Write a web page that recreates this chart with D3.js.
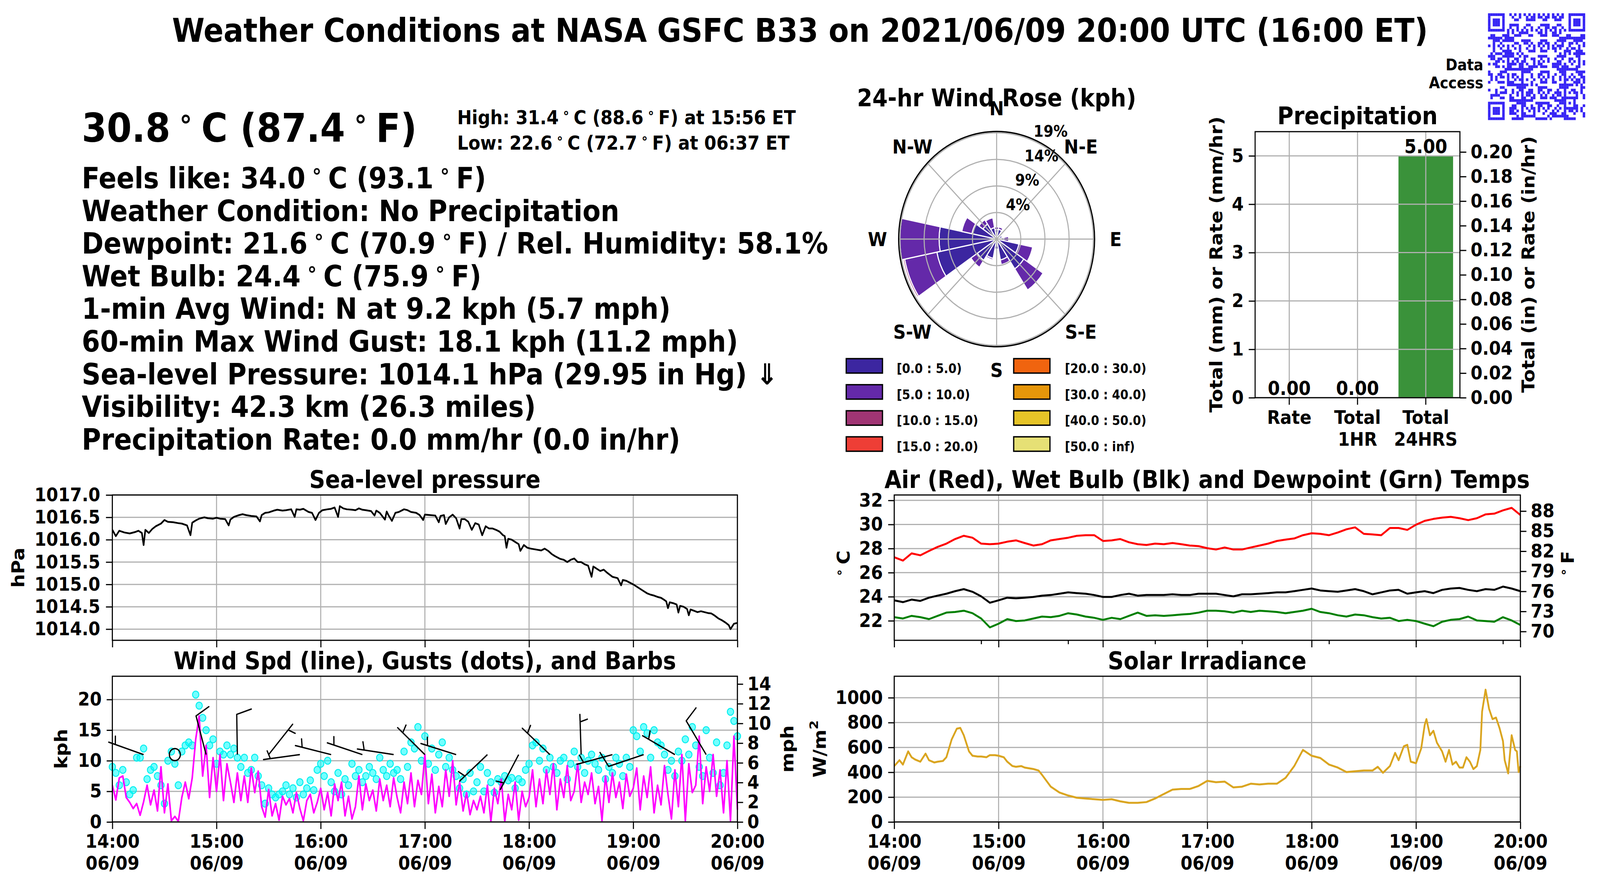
<!DOCTYPE html>
<html>
<head>
<meta charset="utf-8">
<script src="https://cdn.jsdelivr.net/npm/d3@7"></script>
<style>
  html, body { margin: 0; padding: 0; width: 100%; height: 100%; overflow: hidden; background: #fff; }
  #fig { display: block; width: 100vw; height: 100vh; }
  svg text { font-family: "DejaVu Sans", sans-serif; font-weight: bold; }
</style>
</head>
<body>
<svg id="fig" viewBox="0 0 4500 2250" preserveAspectRatio="none"></svg>
<script>
// Weather station summary page: header text, wind rose, precipitation bars
// and four 6-hour time series panels (times are ET).

// ---------- text ----------
var titleText = "Weather Conditions at NASA GSFC B33 on 2021/06/09 20:00 UTC (16:00 ET)";
var nowTemp = "30.8°C (87.4°F)";
var highLow = ["High: 31.4°C (88.6°F) at 15:56 ET", "Low: 22.6°C (72.7°F) at 06:37 ET"];
var infoLines = [
  "Feels like: 34.0°C (93.1°F)",
  "Weather Condition: No Precipitation",
  "Dewpoint: 21.6°C (70.9°F) / Rel. Humidity: 58.1%",
  "Wet Bulb: 24.4°C (75.9°F)",
  "1-min Avg Wind: N at 9.2 kph (5.7 mph)",
  "60-min Max Wind Gust: 18.1 kph (11.2 mph)",
  "Sea-level Pressure: 1014.1 hPa (29.95 in Hg) ⇓",
  "Visibility: 42.3 km (26.3 miles)",
  "Precipitation Rate: 0.0 mm/hr (0.0 in/hr)"
];

// ---------- wind rose (percent of obs per direction and speed bin) ----------
var roseDirs = ["N","NNE","NE","ENE","E","ESE","SE","SSE","S","SSW","SW","WSW","W","WNW","NW","NNW"];
var roseBin0 = [1.8, 1.9, 1.1, 1.2, 1.5, 4.7, 6.75, 4.0, 1.9, 3.7, 4.8, 12.6, 11.9, 5.2, 3.4, 2.2];
var roseBin1 = [0.5, 0.45, 0, 0.2, 1.0, 2.9, 4.8, 0.9, 0, 0.3, 1.6, 6.8, 8.1, 2.15, 1.0, 1.9];
var roseBin2 = [0, 0, 0, 0, 0, 0, 0, 0, 0, 0.15, 0, 0.3, 0, 0, 0, 0.15];
var roseBins = ["[0.0 : 5.0)", "[5.0 : 10.0)", "[10.0 : 15.0)", "[15.0 : 20.0)",
                "[20.0 : 30.0)", "[30.0 : 40.0)", "[40.0 : 50.0)", "[50.0 : inf)"];
var roseColors = ["#3c26a0", "#6429a9", "#a03574", "#ee3e36", "#f0640f", "#e6960a", "#e6c428", "#e6e075"];
var roseRings = [4, 9, 14, 19];
var roseLabels = ["N", "N-E", "E", "S-E", "S", "S-W", "W", "N-W"];

// ---------- precipitation ----------
var precipCats = ["Rate", "Total|1HR", "Total|24HRS"];
var precipMM = [0.00, 0.00, 5.00];
var precipMMTicks = [0, 1, 2, 3, 4, 5];
var precipInTicks = [0, 0.02, 0.04, 0.06, 0.08, 0.10, 0.12, 0.14, 0.16, 0.18, 0.20];

// ---------- sea-level pressure, [minute after 14:00, hPa] ----------
var pressureObs = [
  [0,1016.22],[2,1016.08],[4,1016.2],[7,1016.16],[10,1016.14],[13,1016.17],[15,1016.2],[17,1016.15],
  [18,1015.88],[19,1016.22],[21,1016.15],[23,1016.24],[25,1016.3],[28,1016.36],[30,1016.44],[32,1016.4],
  [35,1016.39],[38,1016.37],[40,1016.36],[43,1016.32],[45,1016.1],[46,1016.38],[48,1016.43],[50,1016.47],
  [53,1016.5],[55,1016.48],[58,1016.47],[60,1016.49],[62,1016.47],[65,1016.46],[67,1016.32],[68,1016.45],
  [70,1016.51],[73,1016.55],[75,1016.57],[77,1016.55],[80,1016.53],[83,1016.52],[85,1016.41],[86,1016.55],
  [88,1016.6],[90,1016.61],[93,1016.65],[95,1016.67],[98,1016.65],[100,1016.66],[103,1016.68],[105,1016.51],
  [106,1016.68],[108,1016.67],[110,1016.69],[113,1016.62],[115,1016.6],[117,1016.44],[119,1016.6],[121,1016.66],
  [124,1016.68],[126,1016.69],[128,1016.72],[130,1016.51],[131,1016.75],[133,1016.7],[135,1016.68],[138,1016.67],
  [140,1016.66],[142,1016.7],[144,1016.67],[146,1016.66],[149,1016.64],[151,1016.54],[152,1016.65],[154,1016.6],
  [157,1016.45],[158,1016.63],[159,1016.55],[161,1016.42],[163,1016.6],[165,1016.62],[168,1016.68],[170,1016.66],
  [172,1016.62],[175,1016.6],[177,1016.55],[179,1016.44],[180,1016.56],[183,1016.55],[186,1016.54],[188,1016.39],
  [189,1016.53],[191,1016.55],[192,1016.35],[194,1016.5],[196,1016.56],[198,1016.48],[200,1016.25],[201,1016.46],
  [203,1016.46],[205,1016.4],[207,1016.22],[209,1016.37],[211,1016.34],[213,1016.1],[215,1016.3],[217,1016.25],
  [219,1016.25],[221,1016.22],[223,1016.18],[225,1016.1],[226,1016.08],[227,1015.82],[228,1016.02],[230,1016.0],
  [232,1015.95],[234,1015.9],[235,1015.75],[237,1015.88],[239,1015.82],[241,1015.8],[244,1015.78],[247,1015.76],
  [249,1015.8],[251,1015.75],[253,1015.68],[255,1015.63],[258,1015.57],[260,1015.55],[262,1015.5],[264,1015.55],
  [266,1015.58],[268,1015.5],[270,1015.5],[272,1015.45],[274,1015.42],[276,1015.17],[277,1015.4],[279,1015.35],
  [281,1015.3],[283,1015.33],[285,1015.26],[288,1015.17],[291,1015.14],[293,1014.98],[294,1015.1],[296,1015.08],
  [298,1015.04],[300,1015.0],[302,1014.95],[304,1014.9],[306,1014.85],[308,1014.8],[310,1014.77],[312,1014.75],
  [314,1014.72],[316,1014.7],[318,1014.65],[319,1014.62],[320,1014.47],[321,1014.6],[323,1014.58],[325,1014.55],
  [326,1014.37],[327,1014.52],[329,1014.5],[331,1014.45],[332,1014.31],[333,1014.44],[335,1014.41],[337,1014.38],
  [339,1014.4],[341,1014.38],[343,1014.36],[345,1014.35],[347,1014.3],[349,1014.24],[351,1014.2],[353,1014.15],
  [355,1014.09],[356,1014.0],[358,1014.12],[360,1014.14]
];
var pressureTicks = [1014.0, 1014.5, 1015.0, 1015.5, 1016.0, 1016.5, 1017.0];

// ---------- wind, every 2 minutes from 14:00 (kph) ----------
var windSpd = [
  6.0, 3.6, 7.2, 7.5, 4.0, 3.2, 2.2, 3.0, 1.1, 3.3, 6.0, 2.8, 5.2, 1.8, 9.0,
  1.5, 6.2, 0.2, 0.9, 0.1, 4.0, 6.5, 3.8, 7.2, 13.5, 17.3, 7.5, 12.5, 4.0, 10.5,
  5.0, 11.0, 3.5, 9.5, 6.5, 3.2, 8.0, 3.5, 7.5, 3.2, 8.8, 4.8, 8.3, 2.5, 0.8,
  5.3, 1.0, 3.0, 0.3, 4.2, 2.8, 3.8, 1.5, 4.8, 2.2, 0.2, 3.5, 4.5, 1.5, 3.2,
  5.5, 2.0, 4.8, 1.0, 6.2, 3.5, 6.5, 1.0, 4.2, 0.5, 2.5, 7.5, 2.0, 6.2, 3.5,
  5.2, 1.8, 7.0, 3.5, 6.0, 2.5, 7.2, 4.0, 1.5, 6.5, 3.0, 8.0, 2.5, 6.8, 4.5,
  11.0, 3.0, 7.8, 1.5, 5.8, 2.5, 8.5, 4.2, 10.0, 2.8, 6.5, 1.8, 4.8, 1.2, 3.5,
  2.0, 4.2, 1.5, 6.0, 0.1, 5.5, 3.0, 7.0, 0.1, 4.5, 2.0, 6.5, 0.3, 5.0, 2.5,
  4.0, 8.5, 2.5, 7.0, 3.0, 8.5, 4.5, 9.5, 2.0, 7.0, 4.0, 9.2, 3.5, 5.0, 9.5,
  3.2, 6.5, 4.5, 8.0, 3.0, 5.8, 0.2, 7.5, 3.2, 8.0, 4.0, 6.5, 2.2, 7.8, 4.2,
  5.5, 8.8, 2.0, 7.5, 4.0, 9.0, 1.5, 6.0, 2.8, 9.2, 4.5, 0.5, 8.5, 2.5, 11.0,
  0.2, 9.5, 4.8, 6.0, 14.0, 3.0, 9.0, 5.0, 11.0, 4.2, 8.5, 1.5, 10.0, 0.2, 14.0,
  2.0
];
var windGust = [
  9.0, 8.0, 6.0, 8.5, 6.5, 4.5, 5.2, 10.5, 10.5, 12.0, 7.0, 8.5, 9.0, 7.5, 6.0,
  3.0, 10.0, 11.5, 9.5, 6.0, 11.5, 12.5, 13.0, 12.5, 20.8, 19.0, 17.0, 15.0, 12.5, 13.5,
  9.5, 11.5, 11.0, 12.5, 11.0, 12.0, 10.5, 9.0, 10.5, 8.0, 8.5, 10.5, 7.5, 6.0, 3.0,
  5.5, 4.5, 4.0, 4.5, 5.0, 6.0, 4.5, 5.5, 4.0, 6.5, 4.5, 5.5, 6.8, 5.2, 8.5,
  9.5, 7.5, 10.0, 6.5, 5.0, 8.0, 4.5, 7.0, 6.0, 9.5, 7.5, 8.5, 6.5, 7.5, 9.0,
  8.0, 7.0, 10.5, 8.5, 7.5, 9.5, 8.0, 8.5, 7.0, 11.5, 9.0, 13.0, 12.0, 15.5, 10.0,
  14.0, 9.5, 12.0, 8.5, 11.0, 13.0, 9.0, 10.5, 8.5, 7.5, 5.5, 7.0, 4.5, 8.0, 5.0,
  6.5, 9.0, 5.0, 8.0, 6.5, 4.8, 7.0, 6.5, 7.5, 6.8, 7.2, 5.5, 7.0, 6.5, 8.5,
  9.5, 12.5, 13.0, 10.0, 12.0, 8.5, 10.5, 9.0, 8.0, 10.0, 10.5, 7.0, 9.5, 11.5, 9.0,
  10.5, 8.0, 10.0, 11.0, 9.5, 8.5, 10.5, 7.0, 9.0, 8.0, 10.5, 9.5, 7.5, 10.5, 9.0,
  15.0, 14.0, 11.5, 15.5, 14.5, 10.5, 15.0, 13.0, 12.5, 11.0, 8.5, 10.0, 7.5, 11.5, 10.0,
  13.5, 11.0, 15.5, 12.5, 9.0, 7.5, 15.0, 10.5, 8.0, 13.0, 6.0, 8.0, 12.5, 18.0, 16.5,
  14.0
];
var kphTicks = [0, 5, 10, 15, 20];
var mphTicks = [0, 2, 4, 6, 8, 10, 12, 14];
// wind barbs: minute after 14:00, direction wind blows from (deg), speed (kph)
var barbMin = [18, 36, 54, 72, 90, 108, 126, 144, 162, 180, 198, 216, 234, 252, 270, 288, 306, 324, 342];
var barbDir = [288, 0, 344, 359, 41, 263, 283, 287, 278, 312, 286, 229, 210, 311, 358, 256, 253, 298, 327];
var barbKph = [5, 1, 10, 10, 5, 5, 5, 5, 5, 5, 5, 5, 5, 5, 5, 5, 10, 5, 10];

// ---------- temperatures, every 5 minutes from 14:00 (deg C) ----------
var airTemp = [
  27.28, 27.0, 27.6, 27.44, 27.8, 28.14, 28.41, 28.79, 29.06, 28.9, 28.41, 28.36,
  28.41, 28.57, 28.68, 28.46, 28.25, 28.36, 28.68, 28.79, 28.9, 29.06, 29.11, 29.11,
  28.63, 28.68, 28.79, 28.52, 28.36, 28.3, 28.41, 28.36, 28.46, 28.36, 28.25, 28.2,
  28.03, 27.92, 28.09, 27.92, 27.92, 28.09, 28.25, 28.41, 28.63, 28.74, 28.84, 29.11,
  29.27, 29.22, 29.11, 29.33, 29.6, 29.76, 29.22, 29.17, 29.11, 29.71, 29.71, 29.55,
  29.98, 30.3, 30.46, 30.57, 30.63, 30.52, 30.36, 30.52, 30.84, 30.9, 31.17, 31.38,
  30.79
];
var wetBulb = [
  23.7, 23.55, 23.76, 23.65, 23.92, 24.09, 24.25, 24.46, 24.63, 24.41, 24.03, 23.5,
  23.7, 23.92, 23.87, 23.92, 23.98, 24.09, 24.14, 24.25, 24.36, 24.3, 24.25, 24.14,
  23.98, 23.98, 24.14, 24.25, 24.09, 24.14, 24.14, 24.14, 24.2, 24.14, 24.14, 24.25,
  24.25, 24.25, 24.14, 24.03, 24.2, 24.2, 24.25, 24.3, 24.36, 24.36, 24.46, 24.57,
  24.68, 24.52, 24.46, 24.41, 24.52, 24.63, 24.46, 24.2, 24.36, 24.52, 24.57, 24.25,
  24.36, 24.46, 24.3, 24.57, 24.68, 24.73, 24.57, 24.46, 24.63, 24.57, 24.84, 24.68,
  24.46
];
var dewPoint = [
  22.3, 22.19, 22.41, 22.3, 22.14, 22.41, 22.68, 22.73, 22.84, 22.63, 22.19, 21.45,
  21.76, 22.14, 21.98, 22.03, 22.19, 22.35, 22.3, 22.41, 22.63, 22.52, 22.35, 22.25,
  22.08, 22.25, 22.14, 22.41, 22.68, 22.41, 22.46, 22.41, 22.46, 22.52, 22.57, 22.68,
  22.84, 22.84, 22.79, 22.68, 22.84, 22.73, 22.84, 22.79, 22.73, 22.63, 22.73, 22.84,
  23.0, 22.73, 22.63, 22.46, 22.35, 22.52, 22.46, 22.3, 22.19, 22.25, 21.98, 22.08,
  21.98, 21.76, 21.55, 21.92, 22.08, 22.14, 22.35, 22.03, 21.98, 21.92, 22.3, 22.03,
  21.65
];
var tempCTicks = [22, 24, 26, 28, 30, 32];
var tempFTicks = [70, 73, 76, 79, 82, 85, 88];
var twinTickMin = [50, 100, 150, 200, 250, 300, 350];

// ---------- solar irradiance, [minute after 14:00, W/m2] ----------
var solarObs = [
  [0,450],[3,497],[5,462],[8,568],[10,521],[12,503],[15,485],[18,550],[20,497],[23,479],[25,485],[28,491],
  [30,521],[33,663],[36,751],[38,757],[40,698],[43,568],[45,533],[48,527],[50,527],[53,521],[55,538],[58,538],
  [60,533],[63,521],[65,485],[68,450],[70,444],[73,450],[75,438],[80,426],[83,414],[85,379],[90,284],[95,237],
  [100,213],[105,195],[110,189],[115,183],[120,178],[125,183],[130,166],[135,154],[140,154],[145,160],[150,189],
  [155,225],[160,260],[165,266],[170,266],[175,290],[180,331],[185,320],[190,325],[195,278],[200,284],[205,308],
  [210,302],[215,308],[220,308],[225,355],[230,450],[235,580],[240,533],[245,515],[250,462],[255,438],[260,402],
  [265,408],[270,414],[275,414],[278,444],[281,396],[285,450],[288,556],[290,497],[293,609],[295,621],[297,485],
  [300,473],[303,592],[305,781],[306,828],[308,698],[310,734],[312,639],[315,568],[317,485],[319,580],[321,462],
  [323,485],[325,438],[327,438],[329,521],[331,485],[333,426],[335,450],[337,580],[338,888],[340,1065],[342,911],
  [344,828],[346,840],[348,757],[350,651],[351,497],[353,391],[355,698],[357,580],[358,568],[359,402],[360,450]
];
var solarTicks = [0, 200, 400, 600, 800, 1000];

// ================= drawing =================
var fig = d3.select("#fig");
var GRID = "#b0b0b0";
var t0 = new Date(2021, 5, 9, 14, 0), t1 = new Date(2021, 5, 9, 20, 0);
function tm(m) { return d3.timeMinute.offset(t0, m); }
var hourTicks = d3.timeHour.range(t0, d3.timeMinute.offset(t1, 1));
var fmtHM = d3.timeFormat("%H:%M"), fmtMD = d3.timeFormat("%m/%d");

var meas = fig.append("text").attr("visibility", "hidden");
function ringW(size) { meas.attr("font-size", size).text("\u2218"); return meas.node().getComputedTextLength(); }

// text where each ° becomes a raised ring operator, matplotlib mathtext style
function degText(g, x, y, str, size, anchor) {
  var t = g.append("text").attr("x", x).attr("y", y).attr("font-size", size)
    .attr("text-anchor", anchor || "start");
  var gap = (0.86 * size - ringW(size * 0.7)) / 2, rise = size * 0.36;
  var parts = str.split("°");
  parts.forEach(function(p, i) {
    var ts = t.append("tspan").text(p);
    if (i > 0) ts.attr("dx", gap).attr("dy", rise);
    if (i < parts.length - 1)
      t.append("tspan").attr("font-size", size * 0.7).attr("dx", gap).attr("dy", -rise).text("\u2218");
  });
  return t;
}
function vLabel(x, y, str, size) {
  var g = fig.append("g").attr("transform", "translate(" + x + "," + y + ") rotate(-90)");
  return degText(g, 0, 0, str, size, "middle");
}
function styleAxis(g) {
  g.attr("font-family", "DejaVu Sans").attr("font-weight", "bold").attr("font-size", 48).attr("color", "#000");
  g.select(".domain").remove();
  g.selectAll(".tick line").attr("stroke-width", 3);
}
function frame(x0, y0, x1, y1) {
  fig.append("rect").attr("x", x0).attr("y", y0).attr("width", x1 - x0).attr("height", y1 - y0)
    .attr("fill", "none").attr("stroke", "#000").attr("stroke-width", 3);
}
function gridH(y, vals, x0, x1) {
  fig.append("g").selectAll("line").data(vals).join("line")
    .attr("x1", x0).attr("x2", x1).attr("y1", function(d) { return y(d); }).attr("y2", function(d) { return y(d); })
    .attr("stroke", GRID).attr("stroke-width", 3);
}
function gridV(xs, y0, y1) {
  fig.append("g").selectAll("line").data(xs).join("line")
    .attr("x1", function(d) { return d; }).attr("x2", function(d) { return d; }).attr("y1", y0).attr("y2", y1)
    .attr("stroke", GRID).attr("stroke-width", 3);
}
function timeAxis(x, yPos, withLabels) {
  var g = fig.append("g").attr("transform", "translate(0," + yPos + ")")
    .call(d3.axisBottom(x).tickValues(hourTicks).tickSize(18).tickPadding(14).tickFormat(fmtHM));
  styleAxis(g);
  if (!withLabels) { g.selectAll(".tick text").remove(); return g; }
  g.selectAll(".tick text").each(function(d) {
    var t = d3.select(this).text(null);
    t.append("tspan").attr("x", 0).text(fmtHM(d));
    t.append("tspan").attr("x", 0).attr("dy", 56).text(fmtMD(d));
  });
  return g;
}
function subTitle(x, y, s) {
  fig.append("text").attr("x", x).attr("y", y).attr("font-size", 62).attr("text-anchor", "middle").text(s);
}

// ---------- header ----------
fig.append("text").attr("x", 2250).attr("y", 107).attr("font-size", 83).attr("text-anchor", "middle").text(titleText);
degText(fig, 230, 363, nowTemp, 101);
degText(fig, 1286, 318, highLow[0], 49);
degText(fig, 1286, 383, highLow[1], 49);
infoLines.forEach(function(s, i) { degText(fig, 230, 482 + i * 83.6, s, 74); });

// ---------- QR code block ----------
function qrCell(r, c) {
  function finder(r0, c0) {
    var dr = r - r0, dc = c - c0;
    if (dr < -1 || dr > 7 || dc < -1 || dc > 7) return null;
    if (dr < 0 || dr > 6 || dc < 0 || dc > 6) return 0;
    return Math.max(Math.abs(dr - 3), Math.abs(dc - 3)) === 2 ? 0 : 1;
  }
  var f = finder(0, 0); if (f !== null) return f;
  f = finder(0, 34); if (f !== null) return f;
  f = finder(34, 0); if (f !== null) return f;
  var a = Math.max(Math.abs(r - 34), Math.abs(c - 34));
  if (a <= 2) return a === 1 ? 0 : 1;
  if (r === 6) return c % 2 === 0 ? 1 : 0;
  if (c === 6) return r % 2 === 0 ? 1 : 0;
  var h = (r * 9283 + c * 1237 + r * c * 79) % 1000;
  h = ((h * 2654435761) >>> 0) % 100;
  return h < 47 ? 1 : 0;
}
var qr = fig.append("g"), qrM = 6.66;
for (var r = 0; r < 41; r++) for (var c = 0; c < 41; c++) {
  if (qrCell(r, c)) qr.append("rect").attr("x", 4185 + c * qrM).attr("y", 34 + r * qrM)
    .attr("width", qrM + 0.3).attr("height", qrM + 0.3).attr("fill", "#3725f5");
}
fig.append("text").attr("x", 4172).attr("y", 180).attr("font-size", 40).attr("text-anchor", "end").text("Data");
fig.append("text").attr("x", 4172).attr("y", 226).attr("font-size", 40).attr("text-anchor", "end").text("Access");

// ---------- wind rose ----------
var roseR = 275.5;
var rose = fig.append("g").attr("transform", "translate(2803,612)");
var rR = d3.scaleLinear().domain([-1, 19.26]).range([0, roseR]);
var arc = d3.arc(), halfSector = Math.PI / 16;
roseDirs.forEach(function(d, i) {
  var a = i * Math.PI / 8, acc = -1;
  [roseBin0[i], roseBin1[i], roseBin2[i]].forEach(function(v, b) {
    if (v <= 0) return;
    rose.append("path")
      .attr("d", arc({ innerRadius: rR(acc), outerRadius: rR(acc + v), startAngle: a - halfSector, endAngle: a + halfSector }))
      .attr("fill", roseColors[b]).attr("stroke", "#fff").attr("stroke-width", 3);
    acc += v;
  });
});
rose.selectAll("circle.ring").data(roseRings).join("circle")
  .attr("r", function(d) { return rR(d); }).attr("fill", "none").attr("stroke", GRID).attr("stroke-width", 3);
rose.selectAll("line.spoke").data(d3.range(8)).join("line")
  .attr("x2", function(k) { return roseR * Math.sin(k * Math.PI / 4); })
  .attr("y2", function(k) { return -roseR * Math.cos(k * Math.PI / 4); })
  .attr("stroke", GRID).attr("stroke-width", 3);
rose.append("circle").attr("r", roseR).attr("fill", "none").attr("stroke", "#000").attr("stroke-width", 3.5);
roseLabels.forEach(function(s, k) {
  var a = k * Math.PI / 4;
  rose.append("text").attr("x", 335 * Math.sin(a)).attr("y", -335 * Math.cos(a)).attr("dy", "0.36em")
    .attr("font-size", 49).attr("text-anchor", "middle").text(s);
});
roseRings.forEach(function(v) {
  var a = Math.PI / 8, r = rR(v);
  rose.append("text").attr("x", r * Math.sin(a)).attr("y", -r * Math.cos(a) - 11)
    .attr("font-size", 40).text(v + "%");
});
fig.append("text").attr("x", 2803).attr("y", 272).attr("font-size", 62).attr("text-anchor", "middle").text("24-hr Wind Rose (kph)");
roseBins.forEach(function(s, b) {
  var col = Math.floor(b / 4), row = b % 4;
  fig.append("rect").attr("x", 2380 + col * 471).attr("y", 918 + row * 66.7).attr("width", 102).attr("height", 37)
    .attr("fill", roseColors[b]).attr("stroke", "#000").attr("stroke-width", 3.5);
  fig.append("text").attr("x", 2522 + col * 473).attr("y", 955 + row * 66.7).attr("font-size", 33).text(s);
});

// ---------- precipitation ----------
var pL = 3530, pR = 4106, pT = 337, pB = 1018;
var xP = d3.scaleBand().domain(precipCats).range([pL, pR]).paddingInner(0.2).paddingOuter(0.1);
var yP = d3.scaleLinear().domain([0, 5.5]).range([pB, pT]);
var yPin = d3.scaleLinear().domain([0, 5.5 / 25.4]).range([pB, pT]);
fig.append("g").selectAll("rect").data(precipMM).join("rect")
  .attr("x", function(d, i) { return xP(precipCats[i]); }).attr("width", xP.bandwidth())
  .attr("y", function(d) { return yP(d); }).attr("height", function(d) { return pB - yP(d); })
  .attr("fill", "#3a923a");
gridH(yP, precipMMTicks, pL, pR);
gridV(precipCats.map(function(c) { return xP(c) + xP.bandwidth() / 2; }), pT, pB);
precipMM.forEach(function(v, i) {
  fig.append("text").attr("x", xP(precipCats[i]) + xP.bandwidth() / 2).attr("y", yP(v) - 7)
    .attr("font-size", 49).attr("text-anchor", "middle").text(v.toFixed(2));
});
frame(pL, pT, pR, pB);
var gpx = fig.append("g").attr("transform", "translate(0," + pB + ")")
  .call(d3.axisBottom(xP).tickSize(18).tickPadding(15));
styleAxis(gpx);
gpx.selectAll(".tick text").each(function(d) {
  var t = d3.select(this).text(null);
  d.split("|").forEach(function(s, i) {
    var ts = t.append("tspan").attr("x", 0).text(s);
    if (i) ts.attr("dy", 56);
  });
});
styleAxis(fig.append("g").attr("transform", "translate(" + pL + ",0)")
  .call(d3.axisLeft(yP).tickValues(precipMMTicks).tickSize(18).tickPadding(14).tickFormat(d3.format("d"))));
styleAxis(fig.append("g").attr("transform", "translate(" + pR + ",0)")
  .call(d3.axisRight(yPin).tickValues(precipInTicks).tickSize(18).tickPadding(12).tickFormat(d3.format(".2f"))));
fig.append("text").attr("x", 3818).attr("y", 318).attr("font-size", 62).attr("text-anchor", "middle").text("Precipitation");
vLabel(3438, 677, "Total (mm) or Rate (mm/hr)", 49);
vLabel(4315, 677, "Total (in) or Rate (in/hr)", 49);

// ---------- sea-level pressure ----------
var lL = 316, lR = 2074, topT = 1267, topB = 1639, botT = 1731, botB = 2104;
var xL = d3.scaleTime().domain([t0, t1]).range([lL, lR]);
var yPr = d3.scaleLinear().domain([1013.75, 1017.0]).range([topB, topT]);
gridV(hourTicks.map(xL), topT, topB);
gridH(yPr, pressureTicks, lL, lR);
fig.append("path").datum(pressureObs)
  .attr("d", d3.line().x(function(d) { return xL(tm(d[0])); }).y(function(d) { return yPr(d[1]); }))
  .attr("fill", "none").attr("stroke", "#000").attr("stroke-width", 4.5).attr("stroke-linejoin", "round");
frame(lL, topT, lR, topB);
timeAxis(xL, topB, false);
styleAxis(fig.append("g").attr("transform", "translate(" + lL + ",0)")
  .call(d3.axisLeft(yPr).tickValues(pressureTicks).tickSize(18).tickPadding(16).tickFormat(d3.format(".1f"))));
subTitle(1195, 1249, "Sea-level pressure");
vLabel(68, 1453, "hPa", 49);

// ---------- wind ----------
var yW = d3.scaleLinear().domain([0, 23.8]).range([botB, botT]);
var yWm = d3.scaleLinear().domain([0, 23.8 / 1.60934]).range([botB, botT]);
gridV(hourTicks.map(xL), botT, botB);
gridH(yW, kphTicks, lL, lR);
fig.append("g").selectAll("circle").data(windGust).join("circle")
  .attr("cx", function(d, i) { return xL(tm(i * 2)); }).attr("cy", function(d) { return yW(d); }).attr("r", 9)
  .attr("fill", "#00ffff").attr("fill-opacity", 0.55).attr("stroke", "#00eeee").attr("stroke-width", 2.5);
fig.append("path").datum(windSpd)
  .attr("d", d3.line().x(function(d, i) { return xL(tm(i * 2)); }).y(function(d) { return yW(d); }))
  .attr("fill", "none").attr("stroke", "#ff00ff").attr("stroke-width", 4.5).attr("stroke-linejoin", "round");

// matplotlib-style barbs: shaft points to where wind comes from, feathers on the clockwise side
var bL = 103, bSp = 0.125 * bL, bFh = 0.4 * bL, bFw = 0.25 * bL;
var barbs = fig.append("g").attr("fill", "none").attr("stroke", "#000").attr("stroke-width", 3.5)
  .attr("stroke-linejoin", "round");
barbMin.forEach(function(m, i) {
  var bx = xL(tm(m)), by = yW(11), th = barbDir[i] * Math.PI / 180;
  var mag = 5 * Math.round(barbKph[i] / 5);
  if (mag < 5) { barbs.append("circle").attr("cx", bx).attr("cy", by).attr("r", 0.15 * bL); return; }
  var ux = Math.sin(th), uy = -Math.cos(th), px = -uy, py = ux;
  function P(lx, ly) { return [bx + lx * px + ly * ux, by + lx * py + ly * uy]; }
  var pts = [P(0, 0), P(0, bL)], off = bL;
  var nFull = Math.floor(mag / 10), half = (mag % 10) >= 5;
  for (var k = 0; k < nFull; k++) { pts.push(P(bFh, off + bFw / 2), P(0, off)); off -= bSp; }
  if (half) {
    if (off === bL) { off -= 1.5 * bSp; pts.push(P(0, off)); }
    pts.push(P(bFh / 2, off + bFw / 4), P(0, off));
  }
  barbs.append("path").attr("d", d3.line()(pts));
});
frame(lL, botT, lR, botB);
timeAxis(xL, botB, true);
styleAxis(fig.append("g").attr("transform", "translate(" + lL + ",0)")
  .call(d3.axisLeft(yW).tickValues(kphTicks).tickSize(16).tickPadding(14)));
styleAxis(fig.append("g").attr("transform", "translate(" + lR + ",0)")
  .call(d3.axisRight(yWm).tickValues(mphTicks).tickSize(16).tickPadding(12)));
subTitle(1195, 1713, "Wind Spd (line), Gusts (dots), and Barbs");
vLabel(189, 1917, "kph", 49);
vLabel(2231, 1917, "mph", 49);

// ---------- temperatures ----------
var rL = 2515, rRt = 4276;
var xR = d3.scaleTime().domain([t0, t1]).range([rL, rRt]);
var c2f = function(c) { return c * 9 / 5 + 32; };
var yT = d3.scaleLinear().domain([20.38, 32.45]).range([topB, topT]);
var yTF = d3.scaleLinear().domain([c2f(20.38), c2f(32.45)]).range([topB, topT]);
gridV(hourTicks.map(xR), topT, topB);
gridH(yT, tempCTicks, rL, rRt);
[[airTemp, "#ff0000"], [wetBulb, "#000000"], [dewPoint, "#008000"]].forEach(function(s) {
  fig.append("path").datum(s[0])
    .attr("d", d3.line().x(function(d, i) { return xR(tm(i * 5)); }).y(function(d) { return yT(d); }))
    .attr("fill", "none").attr("stroke", s[1]).attr("stroke-width", 5).attr("stroke-linejoin", "round");
});
frame(rL, topT, rRt, topB);
timeAxis(xR, topB, false);
styleAxis(fig.append("g").attr("transform", "translate(0," + topB + ")")
  .call(d3.axisBottom(xR).tickValues(twinTickMin.map(tm)).tickSize(10).tickFormat("")));
styleAxis(fig.append("g").attr("transform", "translate(" + rL + ",0)")
  .call(d3.axisLeft(yT).tickValues(tempCTicks).tickSize(17).tickPadding(15)));
styleAxis(fig.append("g").attr("transform", "translate(" + rRt + ",0)")
  .call(d3.axisRight(yTF).tickValues(tempFTicks).tickSize(17).tickPadding(12)));
subTitle(3395, 1249, "Air (Red), Wet Bulb (Blk) and Dewpoint (Grn) Temps");
vLabel(2390, 1453, "°C", 49);
vLabel(4426, 1453, "°F", 49);

// ---------- solar ----------
var ySo = d3.scaleLinear().domain([0, 1173]).range([botB, botT]);
gridV(hourTicks.map(xR), botT, botB);
gridH(ySo, solarTicks, rL, rRt);
fig.append("path").datum(solarObs)
  .attr("d", d3.line().x(function(d) { return xR(tm(d[0])); }).y(function(d) { return ySo(d[1]); }))
  .attr("fill", "none").attr("stroke", "#daa520").attr("stroke-width", 5).attr("stroke-linejoin", "round");
frame(rL, botT, rRt, botB);
timeAxis(xR, botB, true);
styleAxis(fig.append("g").attr("transform", "translate(" + rL + ",0)")
  .call(d3.axisLeft(ySo).tickValues(solarTicks).tickSize(17).tickPadding(15).tickFormat(d3.format("d"))));
subTitle(3395, 1713, "Solar Irradiance");
var wl = fig.append("g").attr("transform", "translate(2322,1917) rotate(-90)")
  .append("text").attr("font-size", 49).attr("text-anchor", "middle");
wl.append("tspan").text("W/m");
wl.append("tspan").attr("font-size", 34).attr("dy", -22).text("2");
meas.remove();
</script>
</body>
</html>
